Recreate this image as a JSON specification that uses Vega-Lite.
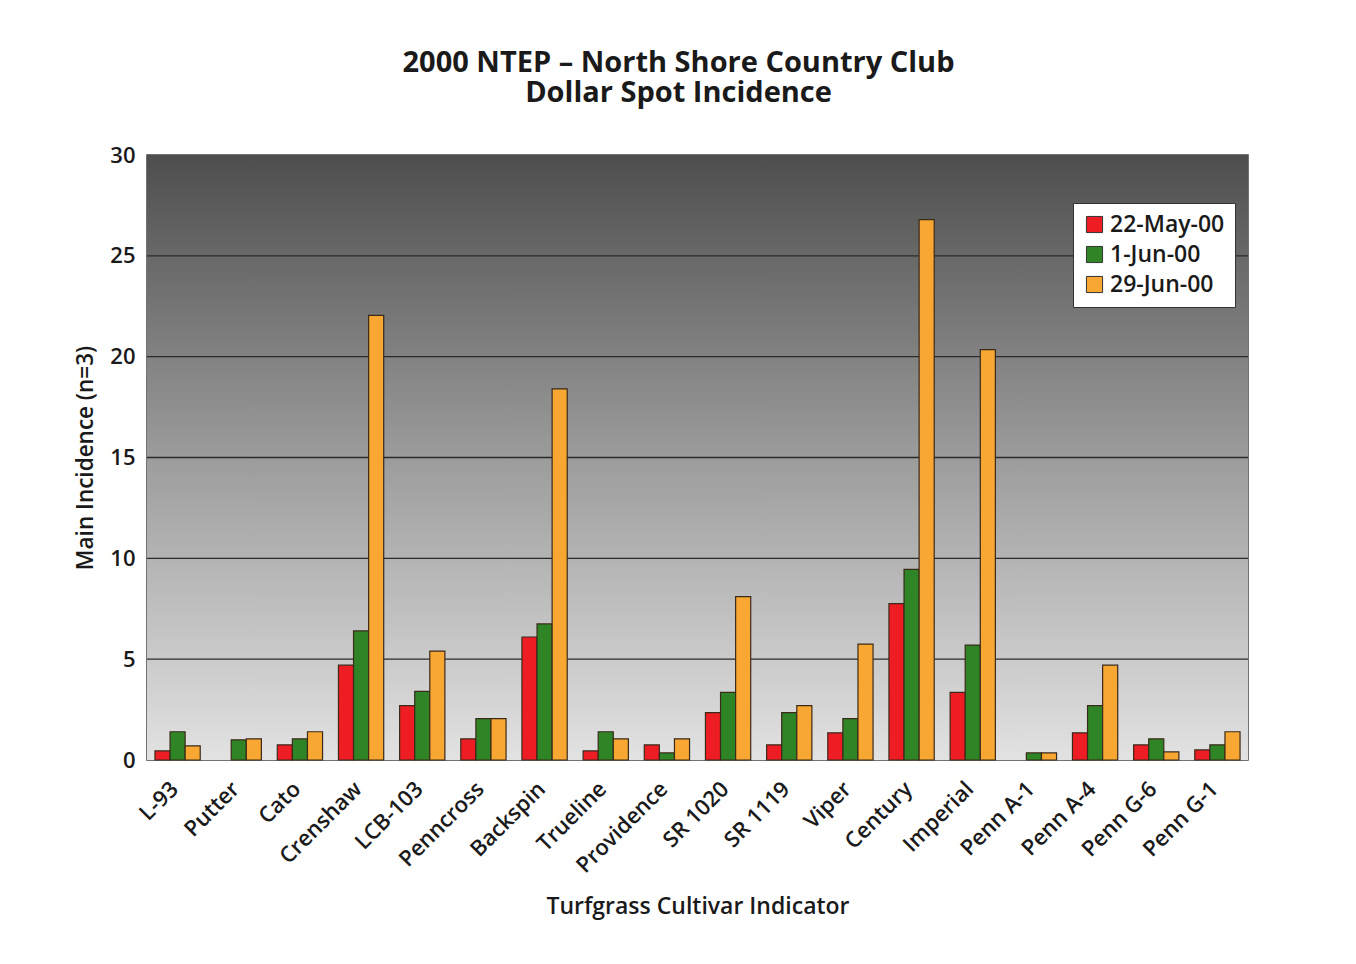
{
  "$schema": "https://vega.github.io/schema/vega-lite/v6.json",
  "width": 1101,
  "height": 605,
  "autosize": {"type": "none"},
  "padding": {"left": 147, "top": 155, "right": 108, "bottom": 204},
  "background": "white",
  "title": {
    "text": ["2000 NTEP – North Shore Country Club", "Dollar Spot Incidence"],
    "font": "Open Sans",
    "fontSize": 29,
    "fontWeight": "bold",
    "lineHeight": 30,
    "color": "#1a1a1a",
    "anchor": "middle",
    "dx": -19,
    "offset": 36
  },
  "config": {
    "view": {"stroke": "#444", "strokeWidth": 1.5},
    "axis": {"labelFont": "Open Sans", "titleFont": "Open Sans", "labelColor": "#1a1a1a", "titleColor": "#1a1a1a"}
  },
  "datasets": {
    "bars": [
      {"cultivar": "L-93", "date": "22-May-00", "value": 0.45},
      {"cultivar": "L-93", "date": "1-Jun-00", "value": 1.4},
      {"cultivar": "L-93", "date": "29-Jun-00", "value": 0.7},
      {"cultivar": "Putter", "date": "22-May-00", "value": 0},
      {"cultivar": "Putter", "date": "1-Jun-00", "value": 1.0},
      {"cultivar": "Putter", "date": "29-Jun-00", "value": 1.05},
      {"cultivar": "Cato", "date": "22-May-00", "value": 0.75},
      {"cultivar": "Cato", "date": "1-Jun-00", "value": 1.05},
      {"cultivar": "Cato", "date": "29-Jun-00", "value": 1.4},
      {"cultivar": "Crenshaw", "date": "22-May-00", "value": 4.7},
      {"cultivar": "Crenshaw", "date": "1-Jun-00", "value": 6.4},
      {"cultivar": "Crenshaw", "date": "29-Jun-00", "value": 22.05},
      {"cultivar": "LCB-103", "date": "22-May-00", "value": 2.7},
      {"cultivar": "LCB-103", "date": "1-Jun-00", "value": 3.4},
      {"cultivar": "LCB-103", "date": "29-Jun-00", "value": 5.4},
      {"cultivar": "Penncross", "date": "22-May-00", "value": 1.05},
      {"cultivar": "Penncross", "date": "1-Jun-00", "value": 2.05},
      {"cultivar": "Penncross", "date": "29-Jun-00", "value": 2.05},
      {"cultivar": "Backspin", "date": "22-May-00", "value": 6.1},
      {"cultivar": "Backspin", "date": "1-Jun-00", "value": 6.75},
      {"cultivar": "Backspin", "date": "29-Jun-00", "value": 18.4},
      {"cultivar": "Trueline", "date": "22-May-00", "value": 0.45},
      {"cultivar": "Trueline", "date": "1-Jun-00", "value": 1.4},
      {"cultivar": "Trueline", "date": "29-Jun-00", "value": 1.05},
      {"cultivar": "Providence", "date": "22-May-00", "value": 0.75},
      {"cultivar": "Providence", "date": "1-Jun-00", "value": 0.35},
      {"cultivar": "Providence", "date": "29-Jun-00", "value": 1.05},
      {"cultivar": "SR 1020", "date": "22-May-00", "value": 2.35},
      {"cultivar": "SR 1020", "date": "1-Jun-00", "value": 3.35},
      {"cultivar": "SR 1020", "date": "29-Jun-00", "value": 8.1},
      {"cultivar": "SR 1119", "date": "22-May-00", "value": 0.75},
      {"cultivar": "SR 1119", "date": "1-Jun-00", "value": 2.35},
      {"cultivar": "SR 1119", "date": "29-Jun-00", "value": 2.7},
      {"cultivar": "Viper", "date": "22-May-00", "value": 1.35},
      {"cultivar": "Viper", "date": "1-Jun-00", "value": 2.05},
      {"cultivar": "Viper", "date": "29-Jun-00", "value": 5.75},
      {"cultivar": "Century", "date": "22-May-00", "value": 7.75},
      {"cultivar": "Century", "date": "1-Jun-00", "value": 9.45},
      {"cultivar": "Century", "date": "29-Jun-00", "value": 26.8},
      {"cultivar": "Imperial", "date": "22-May-00", "value": 3.35},
      {"cultivar": "Imperial", "date": "1-Jun-00", "value": 5.7},
      {"cultivar": "Imperial", "date": "29-Jun-00", "value": 20.35},
      {"cultivar": "Penn A-1", "date": "22-May-00", "value": 0},
      {"cultivar": "Penn A-1", "date": "1-Jun-00", "value": 0.35},
      {"cultivar": "Penn A-1", "date": "29-Jun-00", "value": 0.35},
      {"cultivar": "Penn A-4", "date": "22-May-00", "value": 1.35},
      {"cultivar": "Penn A-4", "date": "1-Jun-00", "value": 2.7},
      {"cultivar": "Penn A-4", "date": "29-Jun-00", "value": 4.7},
      {"cultivar": "Penn G-6", "date": "22-May-00", "value": 0.75},
      {"cultivar": "Penn G-6", "date": "1-Jun-00", "value": 1.05},
      {"cultivar": "Penn G-6", "date": "29-Jun-00", "value": 0.4},
      {"cultivar": "Penn G-1", "date": "22-May-00", "value": 0.5},
      {"cultivar": "Penn G-1", "date": "1-Jun-00", "value": 0.75},
      {"cultivar": "Penn G-1", "date": "29-Jun-00", "value": 1.4}
    ],
    "grid": [{"g": 5}, {"g": 10}, {"g": 15}, {"g": 20}, {"g": 25}],
    "bg": [{"top": 30, "bottom": 0}]
  },
  "layer": [
    {
      "data": {"name": "bg"},
      "mark": {
        "type": "rect",
        "fill": {
          "gradient": "linear",
          "x1": 0, "y1": 0, "x2": 0, "y2": 1,
          "stops": [
            {"offset": 0, "color": "#4e4e4e"},
            {"offset": 0.5, "color": "#9c9c9c"},
            {"offset": 1, "color": "#e2e2e2"}
          ]
        }
      },
      "encoding": {
        "y": {"field": "top", "type": "quantitative", "scale": {"domain": [0, 30], "nice": false}, "title": "Main Incidence (n=3)"},
        "y2": {"field": "bottom"}
      }
    },
    {
      "data": {"name": "grid"},
      "mark": {"type": "rule", "color": "#2a2a2a", "strokeWidth": 1.3},
      "encoding": {
        "y": {"field": "g", "type": "quantitative", "title": "Main Incidence (n=3)"}
      }
    },
    {
      "data": {"name": "bars"},
      "transform": [{"filter": "datum.value > 0"}],
      "mark": {"type": "bar", "stroke": "#3a2a1a", "strokeWidth": 1.2},
      "encoding": {
        "x": {
          "field": "cultivar",
          "type": "nominal",
          "sort": null,
          "scale": {"paddingInner": 0.26, "paddingOuter": 0.13},
          "axis": {
            "title": "Turfgrass Cultivar Indicator",
            "titleFontSize": 23,
            "titleFontWeight": 600,
            "titlePadding": 19,
            "labelAngle": -45,
            "labelFontSize": 22,
            "labelFontWeight": 600,
            "labelPadding": 18,
            "labelOffset": -10,
            "ticks": false,
            "domain": false
          }
        },
        "xOffset": {"field": "date", "type": "nominal", "sort": ["22-May-00", "1-Jun-00", "29-Jun-00"], "scale": {"domain": ["22-May-00", "1-Jun-00", "29-Jun-00"]}},
        "y": {
          "field": "value",
          "type": "quantitative",
          "title": "Main Incidence (n=3)",
          "axis": {
            "values": [0, 5, 10, 15, 20, 25, 30],
            "grid": false,
            "ticks": false,
            "domain": false,
            "labelFontSize": 22,
            "labelFontWeight": 600,
            "labelPadding": 12,
            "titleFontSize": 22.5,
            "titleFontWeight": 600,
            "titlePadding": 12
          }
        },
        "color": {
          "field": "date",
          "type": "nominal",
          "sort": ["22-May-00", "1-Jun-00", "29-Jun-00"],
          "scale": {"domain": ["22-May-00", "1-Jun-00", "29-Jun-00"], "range": ["#ee1d24", "#2f8426", "#f8a832"]},
          "legend": {
            "title": null,
            "orient": "none",
            "legendX": 926,
            "legendY": 48,
            "fillColor": "white",
            "strokeColor": "#333",
            "padding": 10,
            "symbolType": "square",
            "symbolSize": 260,
            "symbolStrokeColor": "#333",
            "symbolStrokeWidth": 1,
            "symbolOpacity": 1,
            "labelFont": "Open Sans",
            "labelFontSize": 23,
            "labelFontWeight": 600,
            "labelColor": "#1a1a1a",
            "rowPadding": 6,
            "labelOffset": 4
          }
        }
      }
    }
  ]
}
